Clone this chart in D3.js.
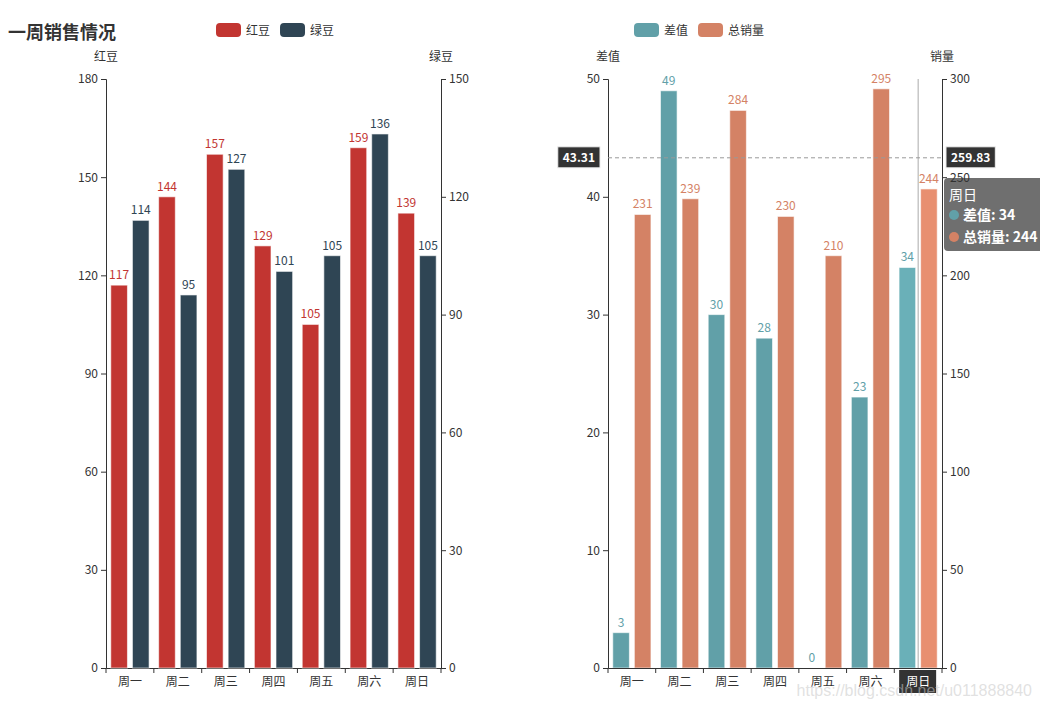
<!DOCTYPE html>
<html><head><meta charset="utf-8">
<script src="https://cdn.jsdelivr.net/npm/d3@7/dist/d3.min.js"></script>
<style>
body{margin:0;background:#fff;}
svg{display:block;font-family:"Microsoft YaHei","Noto Sans CJK SC",sans-serif;}
</style></head>
<body>
<svg id="c" width="1040" height="708"></svg>
<script>
const days = ["周一","周二","周三","周四","周五","周六","周日"];
const redBean = [117,144,157,129,105,159,139];
const greenBean = [114,95,127,101,105,136,105];
const diffVals = [3,49,30,28,0,23,34];
const totalVals = [231,239,284,230,210,295,244];
const leftTicksA = [0,30,60,90,120,150,180];
const rightTicksA = [0,30,60,90,120,150];
const leftTicksB = [0,10,20,30,40,50];
const rightTicksB = [0,50,100,150,200,250,300];
const pointerY = 43.31, pointerY2 = 259.83;

const svg = d3.select("#c");
const col = {red:"#c23531", dark:"#2f4554", teal:"#61a0a8", orange:"#d48265", text:"#333"};
const plotTop = 79, plotBottom = 668;

svg.append("text").attr("x",8).attr("y",39).attr("font-size",18).attr("font-weight","bold")
  .attr("fill","#333").text("一周销售情况");

function legend(items, x0){
  let x = x0;
  items.forEach(it=>{
    svg.append("rect").attr("x",x).attr("y",23).attr("width",25).attr("height",14).attr("rx",4).attr("fill",it.c);
    const t = svg.append("text").attr("x",x+30).attr("y",34.5).attr("font-size",12).attr("fill","#333").text(it.n);
    x += 30 + t.node().getComputedTextLength() + 10;
  });
}
legend([{n:"红豆",c:col.red},{n:"绿豆",c:col.dark}],216);
legend([{n:"差值",c:col.teal},{n:"总销量",c:col.orange}],634);

function chart(opt){
  const {x0,x1,s1,s2,t1,t2,d1,d2,c1,c2,n1,n2,hover} = opt;
  const x = d3.scaleBand().domain(days).range([x0,x1]).paddingInner(0).paddingOuter(0);
  const y1 = d3.scaleLinear().domain([0,d1]).range([plotBottom,plotTop]);
  const y2 = d3.scaleLinear().domain([0,d2]).range([plotBottom,plotTop]);
  const bw = x.bandwidth();
  const gapCat = bw*0.2;
  const w = (bw-gapCat)/2.3;
  const g = svg.append("g");

  g.append("text").attr("x",x0).attr("y",61).attr("text-anchor","middle").attr("font-size",12).attr("fill","#333").text(n1);
  g.append("text").attr("x",x1).attr("y",61).attr("text-anchor","middle").attr("font-size",12).attr("fill","#333").text(n2);

  const la = g.append("g").attr("transform",`translate(${x0},0)`)
    .call(d3.axisLeft(y1).tickValues(t1).tickSize(5).tickPadding(3));
  const ra = g.append("g").attr("transform",`translate(${x1},0)`)
    .call(d3.axisRight(y2).tickValues(t2).tickSize(5).tickPadding(3));
  const xa = g.append("g").attr("transform",`translate(0,${plotBottom})`)
    .call(d3.axisBottom(x).tickSize(0).tickPadding(9));
  [la,ra,xa].forEach(a=>{
    a.selectAll("path").attr("stroke","#333").attr("stroke-width",1);
    a.selectAll("line").attr("stroke","#333");
    a.selectAll("text").attr("font-size",12).attr("fill","#333").attr("font-family",'"Microsoft YaHei","Noto Sans CJK SC",sans-serif');
  });
  const bounds = days.map(d=>x(d)).concat([x1]);
  g.append("g").selectAll("line").data(bounds).join("line")
    .attr("x1",d=>d).attr("x2",d=>d).attr("y1",plotBottom).attr("y2",plotBottom+5).attr("stroke","#333");

  const ser = [{v:s1,c:c1,y:y1,off:0},{v:s2,c:c2,y:y2,off:1.3*w}];
  if(hover){
    g.append("line").attr("x1",x(days[hover.i])+bw/2).attr("x2",x(days[hover.i])+bw/2)
      .attr("y1",plotTop).attr("y2",plotBottom).attr("stroke","#aaa").attr("stroke-width",1);
  }
  ser.forEach((s,si)=>{
    const bars = g.append("g");
    bars.selectAll("rect").data(s.v).join("rect")
      .attr("x",(d,i)=>x(days[i])+gapCat/2+s.off)
      .attr("y",d=>s.y(d))
      .attr("width",w)
      .attr("height",d=>plotBottom-s.y(d))
      .attr("fill",(d,i)=> hover && i===hover.i ? hover.colors[si] : s.c)
      .attr("stroke","rgba(255,255,255,0.6)").attr("stroke-width",1);
    bars.selectAll("text").data(s.v).join("text")
      .attr("x",(d,i)=>x(days[i])+gapCat/2+s.off+w/2)
      .attr("y",d=>s.y(d)-6)
      .attr("text-anchor","middle").attr("font-size",12).attr("fill",s.c).text(d=>d);
  });
  if(hover){
    const py = y1(pointerY);
    g.append("line").attr("x1",x0).attr("x2",x1).attr("y1",py).attr("y2",py)
      .attr("stroke","#999").attr("stroke-dasharray","4,3");
    const lbl = (txt,xx,anchor)=>{
      const t = g.append("text").attr("font-size",12).attr("font-weight","bold").attr("fill","#fff").text(txt);
      const tw = t.node().getComputedTextLength();
      const bxw = tw+10;
      const bx = anchor==="end" ? xx-bxw : xx;
      g.insert("rect",()=>t.node()).attr("x",bx).attr("y",py-11).attr("width",bxw).attr("height",21).attr("fill","#333")
        .attr("stroke","#eee");
      t.attr("x",bx+5).attr("y",py+4);
    };
    lbl(pointerY.toFixed(2),x0-8,"end");
    lbl(pointerY2.toFixed(2),x1+4,"start");
    const cx = x(days[hover.i])+bw/2;
    xa.selectAll(".tick text").filter(d=>d===days[hover.i]).attr("fill","#fff");
    g.append("rect").attr("x",cx-19).attr("y",plotBottom+2).attr("width",37).attr("height",23).attr("fill","#333");
    xa.raise();
    const tg = svg.append("g").attr("transform","translate(944,178)");
    tg.append("rect").attr("width",110).attr("height",73).attr("rx",4).attr("fill","rgba(50,50,50,0.7)");
    tg.append("text").attr("x",5).attr("y",22).attr("font-size",14).attr("fill","#fff").text(days[hover.i]);
    const rows = [{n:"差值",v:s1[hover.i],c:c1},{n:"总销量",v:s2[hover.i],c:c2}];
    rows.forEach((r,k)=>{
      tg.append("circle").attr("cx",10).attr("cy",37+k*22).attr("r",5).attr("fill",r.c);
      tg.append("text").attr("x",19).attr("y",42+k*22).attr("font-size",14).attr("font-weight","bold").attr("fill","#fff").text(`${r.n}: ${r.v}`);
    });
  }
}

chart({x0:106,x1:441,s1:redBean,s2:greenBean,t1:leftTicksA,t2:rightTicksA,d1:180,d2:150,c1:col.red,c2:col.dark,n1:"红豆",n2:"绿豆"});
chart({x0:608,x1:942,s1:diffVals,s2:totalVals,t1:leftTicksB,t2:rightTicksB,d1:50,d2:300,c1:col.teal,c2:col.orange,n1:"差值",n2:"销量",
  hover:{i:6,colors:["#6ab0b8","#e88f70"]}});

svg.append("text").attr("x",1032).attr("y",696).attr("text-anchor","end").attr("font-size",16)
  .attr("fill","rgba(200,200,200,0.55)").attr("font-family","Arial, sans-serif").text("https://blog.csdn.net/u011888840");
</script>
</body></html>
